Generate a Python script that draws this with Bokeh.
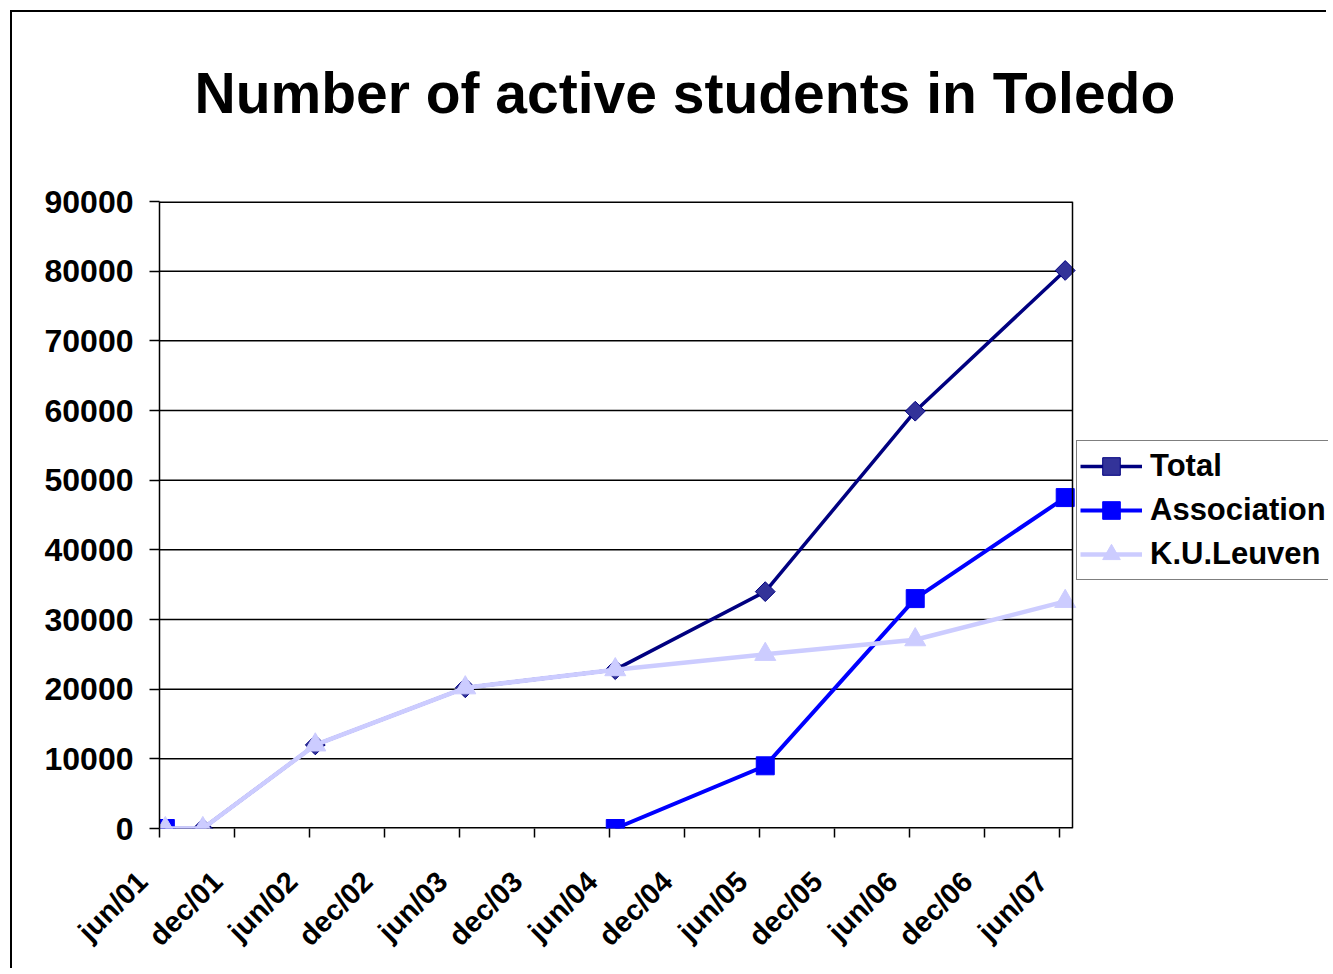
import math
import numpy as np
import pandas as pd
from bokeh.plotting import figure
from bokeh.models import (Range1d, FixedTicker, Legend, LegendItem, BasicTickFormatter,
                          Span, Title)
from bokeh.embed import file_html
from bokeh.resources import INLINE

# ---- data ----
dates = ["2001-06-15", "2001-09-15", "2002-06-15", "2003-06-15",
         "2004-06-15", "2005-06-15", "2006-06-15", "2007-06-15"]
total = [0, 0, 12000, 20200, 22800, 34000, 59900, 80100]
association = [0, np.nan, np.nan, np.nan, 0, 9000, 33000, 47500]
kuleuven = [0, 0, 12000, 20200, 22800, 25000, 27100, 32600]
tick_labels = ["jun/01", "dec/01", "jun/02", "dec/02", "jun/03", "dec/03", "jun/04",
               "dec/04", "jun/05", "dec/05", "jun/06", "dec/06", "jun/07"]
y_ticks = list(range(0, 90001, 10000))

# months since 2001-06-01
d = pd.to_datetime(dates)
months = list((d.year - 2001) * 12 + (d.month - 6) + (d.day - 1) / 30.0)
tick_pos = [6 * i for i in range(len(tick_labels))]

FONT = "Liberation Sans"

# layout (pixels)
W, H = 1316, 958
LEFT, TOP, BOX_W, BOX_H = 147, 189, 913, 627
BOX_END = 73.05                      # x value of the plot box's right edge
frame_w = W - LEFT
x_end = BOX_END * frame_w / BOX_W   # frame continues to the right for the legend

p = figure(width=W, height=H, output_backend="svg", toolbar_location=None,
           x_range=Range1d(0, x_end), y_range=Range1d(0, 90000),
           min_border_left=LEFT, min_border_right=0,
           min_border_top=TOP, min_border_bottom=H - TOP - BOX_H)
p.margin = (10, 0, 0, 10)
p.styles = {"border-left": "2px solid black", "border-top": "2px solid black"}

p.background_fill_color = "white"
p.border_fill_color = "white"
p.outline_line_color = None

# titles: a spacer next to the frame, the real title above it
p.add_layout(Title(text=" ", text_font_size="2px", standoff=73), "above")
t = Title(text="Number of active students in Toledo", align="left", offset=35,
          standoff=0, text_font=FONT, text_font_style="bold",
          text_font_size="57px", text_color="black")
p.add_layout(t, "above")

# grid (drawn only inside the plot box)
p.xgrid.visible = False
p.ygrid.visible = False
gw = [3 if (y == y_ticks[0] or y == y_ticks[-1]) else 1.5 for y in y_ticks]
p.segment(x0=[0] * len(y_ticks), y0=y_ticks, x1=[BOX_END] * len(y_ticks), y1=y_ticks,
          line_color="black", line_width=gw)
p.add_layout(Span(location=BOX_END, dimension="height", line_color="black",
                  line_width=1.5))

# y axis
p.yaxis.ticker = FixedTicker(ticks=y_ticks)
p.yaxis.formatter = BasicTickFormatter(use_scientific=False)
p.yaxis.major_label_text_font = FONT
p.yaxis.major_label_text_font_style = "bold"
p.yaxis.major_label_text_font_size = "32px"
p.yaxis.major_label_text_color = "black"
p.yaxis.axis_line_color = "black"
p.yaxis.axis_line_width = 1.5
p.yaxis.major_tick_line_width = 1.5
p.yaxis.major_tick_out = 10
p.yaxis.major_tick_in = 0
p.yaxis.minor_tick_line_color = None
p.yaxis.major_label_standoff = 16

# x axis
NB = "\u00a0\u00a0\u00a0"
p.xaxis.ticker = FixedTicker(ticks=tick_pos)
p.xaxis.major_label_overrides = {t_: l + NB for t_, l in zip(tick_pos, tick_labels)}
p.xaxis.major_label_orientation = math.pi / 4
p.xaxis.major_label_text_font = FONT
p.xaxis.major_label_text_font_style = "bold"
p.xaxis.major_label_text_font_size = "29px"
p.xaxis.major_label_text_color = "black"
p.xaxis.axis_line_color = None
p.xaxis.major_tick_line_color = "black"
p.xaxis.major_tick_line_width = 1.5
p.xaxis.major_tick_out = 9
p.xaxis.major_tick_in = 0
p.xaxis.minor_tick_line_color = None
p.xaxis.major_label_standoff = 22

# series
l_tot = p.line(months, total, line_color="#000080", line_width=3.5)
s_tot = p.scatter(months, total, marker="square", angle=math.pi / 4, size=14,
                  fill_color="#333399", line_color="#000080", line_width=1)
l_ass = p.line(months, association, line_color="#0000FF", line_width=4)
s_ass = p.scatter(months, association, marker="square", size=18, fill_color="#0000FF",
                  line_color="#0000FF")
l_kul = p.line(months, kuleuven, line_color="#CCCCFF", line_width=4.5)
s_kul = p.scatter(months, kuleuven, marker="triangle", size=21, fill_color="#CCCCFF",
                  line_color="#CCCCFF")

legend = Legend(items=[
    LegendItem(label="Total", renderers=[l_tot, s_tot]),
    LegendItem(label="Association", renderers=[l_ass, s_ass]),
    LegendItem(label="K.U.Leuven", renderers=[l_kul, s_kul]),
], location=(BOX_W + 4, 248))
legend.label_text_font = FONT
legend.label_text_font_style = "bold"
legend.label_text_font_size = "31px"
legend.label_text_color = "black"
legend.glyph_width = 62
legend.glyph_height = 44
legend.label_height = 44
legend.label_standoff = 8
legend.padding = 3
legend.spacing = 0
legend.margin = 0
legend.border_line_color = "black"
legend.border_line_width = 1.5
legend.background_fill_color = "white"
legend.background_fill_alpha = 1
p.add_layout(legend, "center")

open("out.html", "w").write(file_html(p, INLINE))
